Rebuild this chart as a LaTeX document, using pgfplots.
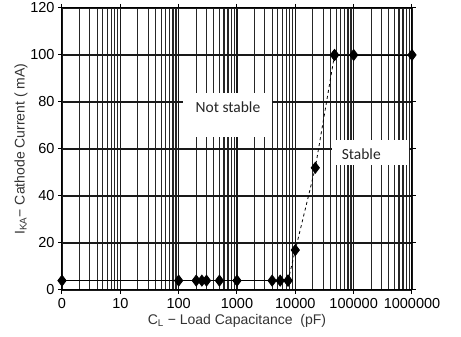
\documentclass[border=0pt]{standalone}
\usepackage{fontspec}
\setmainfont{Liberation Sans}
\newfontfamily\annfont{Carlito}
\usepackage{pgfplots}
\pgfplotsset{compat=1.18}
\begin{document}
\begin{tikzpicture}[x=1pt,y=1pt]
\begin{axis}[
  at={(0,0)}, anchor=south west,
  scale only axis, width=350pt, height=282pt,
  xmode=log, log basis x=10,
  xmin=1, xmax=1000000, ymin=0, ymax=120,
  xtick={1,10,100,1000,10000,100000,1000000},
  xticklabels={0,10,100,1000,10000,100000,1000000},
  minor xtick={2,3,4,5,6,7,8,9,20,30,40,50,60,70,80,90,200,300,400,500,600,700,800,900,2000,3000,4000,5000,6000,7000,8000,9000,20000,30000,40000,50000,60000,70000,80000,90000,200000,300000,400000,500000,600000,700000,800000,900000},
  ytick={0,20,40,60,80,100,120},
  grid=both,
  major grid style={black!90, line width=1.6pt},
  minor grid style={black!85, line width=1.2pt},
  tick align=outside,
  major tick length=4pt, minor tick length=0pt,
  tick style={black, line width=1pt},
  axis line style={black, line width=1pt},
  /pgf/number format/assume math mode=true,
  ticklabel style={font=\fontsize{14.5}{15}\selectfont},
  xticklabel style={yshift=-1pt},
  label style={font=\fontsize{14}{15}\selectfont, text=black!80},
  xlabel={C\textsubscript{L} − Load Capacitance\ \ (pF)},
  ylabel={I\textsubscript{KA}− Cathode Current ( mA)},
  xlabel style={yshift=1pt},
  ylabel style={yshift=-4pt},
  clip=false,
]
\fill[white] (axis cs:119,65) rectangle (axis cs:4000,84);
\fill[white] (axis cs:42000,53) rectangle (axis cs:900000,64);
\node[font=\annfont\fontsize{15.5}{16}\selectfont, text=black!85] at (axis cs:700,78) {Not stable};
\node[font=\annfont\fontsize{15.5}{16}\selectfont, text=black!85] at (axis cs:135000,58) {Stable};
\addplot[black, line width=0.8pt, mark=diamond*, mark size=5.5pt, mark options={solid}] coordinates {
(1,4) (100,4) (200,4) (250,4) (300,4) (500,4) (1000,4) (4000,4) (5500,4) (7500,4)};
\addplot[black, line width=0.8pt, dashed, mark=diamond*, mark size=5.5pt, mark options={solid}] coordinates {
(7500,4) (10000,17) (22000,52) (47000,100)};
\addplot[black, line width=0.8pt, mark=diamond*, mark size=5.5pt, mark options={solid}] coordinates {
(47000,100) (100000,100) (1000000,100)};
\end{axis}
\pgfresetboundingbox
\useasboundingbox (-62,-47) rectangle (399,290);
\end{tikzpicture}
\end{document}
